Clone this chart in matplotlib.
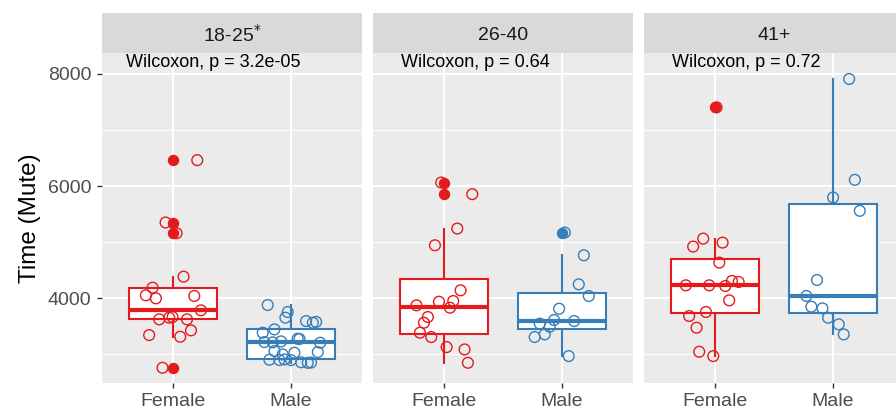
import matplotlib.pyplot as plt
from matplotlib.ticker import MultipleLocator

plt.rcParams["font.family"] = ["Liberation Sans", "DejaVu Sans"]

age_groups = ["18-25$^{*}$", "26-40", "41+"]
sexes = ["Female", "Male"]
p_labels = ["Wilcoxon, p = 3.2e-05", "Wilcoxon, p = 0.64", "Wilcoxon, p = 0.72"]
y_ticks = [4000, 6000, 8000]

# time values, one list per age group / sex
# *_jit are the horizontal jitter offsets of the points (category units)
f18 = [6464, 5352, 5161, 4387, 4190, 4054, 4000, 4042, 3786, 3625, 3655,
       3667, 3625, 3345, 3315, 3429, 2762]
f18_jit = [0.206, -0.062, 0.031, 0.090, -0.172, -0.229, -0.144, 0.181, 0.237,
           -0.116, -0.031, -0.003, 0.119, -0.201, 0.062, 0.153, -0.088]
m18 = [3881, 3756, 3655, 3595, 3565, 3580, 3446, 3387, 3280, 3275, 3220,
       3215, 3232, 3208, 3042, 3060, 3000, 3030, 2905, 2900, 2898, 2860,
       2850, 2855, 2910]
m18_jit = [-0.198, -0.028, -0.048, 0.127, 0.184, 0.212, -0.141, -0.240, 0.056,
           0.071, -0.226, -0.155, -0.085, 0.246, 0.226, -0.141, -0.071, 0.028,
           -0.184, -0.099, 0.0, 0.085, 0.141, 0.169, -0.056]

f26 = [6065, 5857, 5244, 4946, 4143, 3940, 3952, 3875, 3833, 3667, 3565,
       3387, 3310, 3131, 3089, 2851]
f26_jit = [-0.023, 0.240, 0.113, -0.076, 0.141, -0.042, 0.079, -0.232, 0.051,
           -0.136, -0.169, -0.203, -0.107, 0.023, 0.175, 0.203]
m26 = [5173, 4768, 4250, 4042, 3815, 3613, 3595, 3548, 3494, 3357, 3310, 2970]
m26_jit = [0.023, 0.184, 0.141, 0.226, -0.025, -0.068, 0.102, -0.189, -0.105,
           -0.147, -0.232, 0.056]

f41 = [7405, 5065, 4994, 4923, 4637, 4232, 4232, 4220, 4310, 4292, 3964,
       3685, 3756, 3476, 3048, 2970]
f41_jit = [0.014, -0.099, 0.065, -0.184, 0.037, -0.246, -0.048, 0.088, 0.144,
           0.201, 0.121, -0.218, -0.076, -0.155, -0.133, -0.014]
m41 = [7911, 6113, 5560, 5798, 4327, 4042, 3851, 3821, 3655, 3536, 3357]
m41_jit = [0.136, 0.184, 0.226, 0.0, -0.136, -0.226, -0.184, -0.090, -0.042,
           0.048, 0.090]

panels = [
    [(f18, f18_jit), (m18, m18_jit)],
    [(f26, f26_jit), (m26, m26_jit)],
    [(f41, f41_jit), (m41, m41_jit)],
]
colors = ["#E41A1C", "#377EB8"]
label_x = [0.6, 0.64, 0.64]

W, H = 896, 409
fig = plt.figure(figsize=(W / 100, H / 100), dpi=100)

panel_left = [102, 373, 644]
panel_w = 260
panel_top, panel_bot = 53.3, 383.3
strip_top = 12.7

for i, left in enumerate(panel_left):
    ax = fig.add_axes([left / W, 1 - panel_bot / H, panel_w / W,
                       (panel_bot - panel_top) / H])
    ax.set_facecolor("#EBEBEB")
    for s in ax.spines.values():
        s.set_visible(False)

    for j, (vals, jit) in enumerate(panels[i]):
        c = colors[j]
        pos = j + 1
        ax.boxplot(vals, positions=[pos], widths=0.75, patch_artist=True,
                   showcaps=False, whis=1.5,
                   boxprops=dict(facecolor="white", edgecolor=c, linewidth=1.5),
                   medianprops=dict(color=c, linewidth=3.0),
                   whiskerprops=dict(color=c, linewidth=1.5),
                   flierprops=dict(marker="o", markerfacecolor=c,
                                   markeredgecolor=c, markersize=7.2))
        ax.scatter([pos + d for d in jit], vals, s=60, facecolors="none",
                   edgecolors=c, linewidths=1.0, zorder=4)

    ax.set_xlim(0.4, 2.6)
    ax.set_ylim(2485, 8369)
    ax.set_yticks(y_ticks)
    ax.yaxis.set_minor_locator(MultipleLocator(1000))
    ax.set_xticks([1, 2])
    ax.set_xticklabels(sexes)
    ax.grid(which="major", color="white", linewidth=1.4)
    ax.grid(which="minor", axis="y", color="white", linewidth=0.7)
    ax.set_axisbelow(True)
    ax.tick_params(which="major", length=3.5, width=1.0, color="#333333",
                   labelsize=14, labelcolor="#4D4D4D")
    ax.tick_params(axis="x", pad=3.5)
    ax.tick_params(axis="y", pad=4)
    ax.tick_params(which="minor", length=0)
    if i == 0:
        ax.set_yticklabels([str(t) for t in y_ticks])
    else:
        ax.tick_params(axis="y", left=False, labelleft=False)

    ax.text(label_x[i], 8200, p_labels[i], fontsize=13, ha="left",
            va="center", color="black", zorder=5)

    strip = fig.add_axes([left / W, 1 - panel_top / H, panel_w / W,
                          (panel_top - strip_top) / H])
    strip.set_facecolor("#D9D9D9")
    strip.set_xticks([])
    strip.set_yticks([])
    for s in strip.spines.values():
        s.set_visible(False)
    strip.text(0.5, 0.45, age_groups[i], fontsize=14, color="#1A1A1A",
               ha="center", va="center", transform=strip.transAxes)

fig.text(30 / W, 1 - 218 / H, "Time (Mute)", rotation=90, fontsize=17.5,
         ha="center", va="center", color="black")

fig.savefig("out.png", dpi=100)
